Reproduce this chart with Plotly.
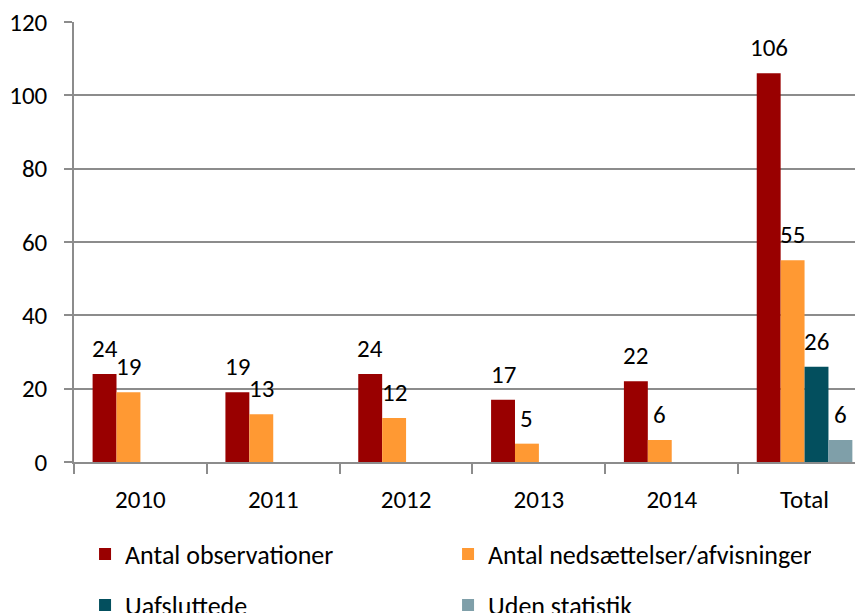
import plotly.graph_objects as go

# data
categories = ['2010', '2011', '2012', '2013', '2014', 'Total']
observationer = [24, 19, 24, 17, 22, 106]
nedsaettelser = [19, 13, 12, 5, 6, 55]
uafsluttede = [None, None, None, None, None, 26]
uden_statistik = [None, None, None, None, None, 6]
y_ticks = [0, 20, 40, 60, 80, 100, 120]

series = [
    ('Antal observationer', observationer, '#990000', 'legend'),
    ('Antal nedsættelser/afvisninger', nedsaettelser, '#FF9933', 'legend'),
    ('Uafsluttede', uafsluttede, '#034F5E', 'legend2'),
    ('Uden statistik', uden_statistik, '#7F9FA9', 'legend2'),
]

font_family = 'Carlito, Calibri, Lato, sans-serif'
fs = 25
leg_fs = 26
grid_color = '#8C8C8C'

fig = go.Figure()
for name, vals, color, leg in series:
    fig.add_trace(go.Bar(x=categories, y=vals, name=name, marker_color=color,
                         marker_line_width=0, legend=leg))

# value labels above bars
offsets = [-1.5, -0.5, 0.5, 1.5]
bar_w = 0.72 / 4
annotations = []
for k, (name, vals, color, leg) in enumerate(series):
    for i, v in enumerate(vals):
        if v is None:
            continue
        annotations.append(dict(x=i + offsets[k] * bar_w, y=v, text=str(v), showarrow=False,
                                xref='x', yref='y', yanchor='bottom', yshift=8,
                                font=dict(size=fs, color='black', family=font_family)))

# page body has an 8px margin, so the figure is a bit smaller than the window
fig.update_layout(
    width=855, height=605,
    margin=dict(l=66, r=0, t=14, b=151, autoexpand=False),
    plot_bgcolor='white', paper_bgcolor='white',
    font=dict(family=font_family, size=fs, color='black'),
    barmode='group', bargap=0.28, bargroupgap=0,
    annotations=annotations,
    legend=dict(orientation='h', x=0.014, xanchor='left', y=-0.156, yanchor='top',
                entrywidth=318, font=dict(size=leg_fs), bgcolor='rgba(0,0,0,0)'),
    legend2=dict(orientation='h', x=0.014, xanchor='left', y=-0.272, yanchor='top',
                 entrywidth=318, font=dict(size=leg_fs), bgcolor='rgba(0,0,0,0)'),
)

fig.update_xaxes(
    range=[-0.5, 5.44], showgrid=False, showline=True, linecolor=grid_color, linewidth=1.5,
    ticks='outside', tickson='boundaries', ticklen=10, tickcolor=grid_color, tickwidth=1.5,
    ticklabelstandoff=14, tickfont=dict(size=fs), automargin=False,
)
fig.update_yaxes(
    range=[0, 120], tickvals=y_ticks, showgrid=True, gridcolor=grid_color, gridwidth=1.5,
    showline=True, linecolor=grid_color, linewidth=1.5, zeroline=False,
    ticks='outside', ticklen=8, tickcolor=grid_color, tickwidth=1.5, tickfont=dict(size=fs),
    ticklabelstandoff=12, ticklabeloverflow='allow', automargin=False,
)

fig.write_html("out.html")
